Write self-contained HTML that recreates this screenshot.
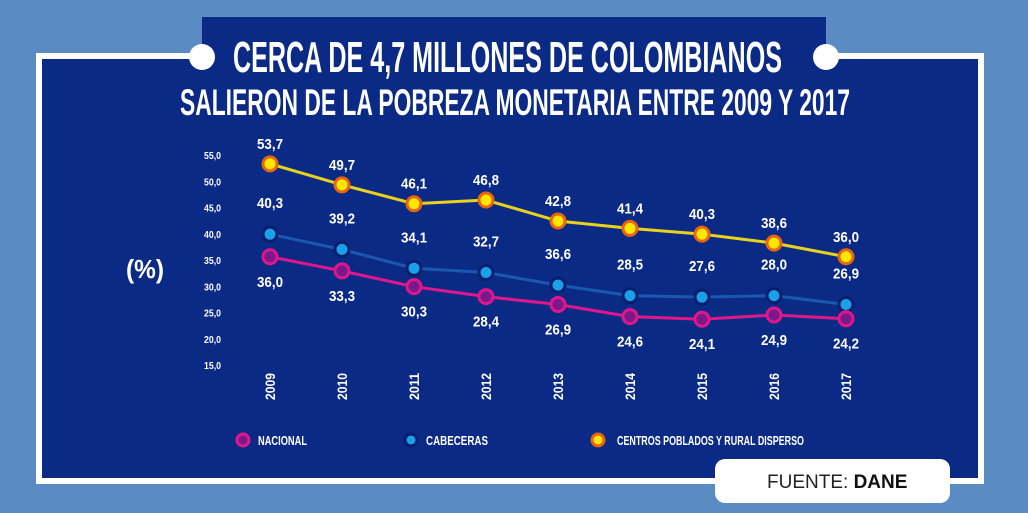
<!DOCTYPE html>
<html><head><meta charset="utf-8"><style>
body{margin:0;width:1028px;height:513px;overflow:hidden;background:#5a8bc3;}
svg{display:block}
text{font-family:"Liberation Sans",sans-serif;font-weight:bold;fill:#fff}
</style></head><body>
<svg width="1028" height="513">
<rect x="36" y="53" width="948" height="431" fill="#fff"/>
<rect x="42" y="59" width="936" height="419" fill="#0b2a85"/>
<rect x="202" y="17" width="624" height="60" fill="#0b2a85"/>
<circle cx="202" cy="57" r="13" fill="#fff"/>
<circle cx="826" cy="57" r="13" fill="#fff"/>
<text x="233" y="72" font-size="44" textLength="549" lengthAdjust="spacingAndGlyphs">CERCA DE 4,7 MILLONES DE COLOMBIANOS</text>
<text x="180" y="115" font-size="37" textLength="670" lengthAdjust="spacingAndGlyphs">SALIERON DE LA POBREZA MONETARIA ENTRE 2009 Y 2017</text>
<text x="126" y="278" font-size="26" textLength="38" lengthAdjust="spacingAndGlyphs">(%)</text>
<g id="plot"></g>
<g>
<circle cx="243" cy="440" r="6" fill="#7a1a8a" stroke="#e0168c" stroke-width="3"/>
<text x="258" y="445" font-size="13" textLength="49" lengthAdjust="spacingAndGlyphs">NACIONAL</text>
<circle cx="411" cy="440" r="6" fill="#1aa0e6" stroke="#0a1e6e" stroke-width="3"/>
<text x="426" y="445" font-size="13" textLength="62" lengthAdjust="spacingAndGlyphs">CABECERAS</text>
<circle cx="598" cy="440" r="6" fill="#ffe600" stroke="#e8650f" stroke-width="3"/>
<text x="617" y="445" font-size="13" textLength="187" lengthAdjust="spacingAndGlyphs">CENTROS POBLADOS Y RURAL DISPERSO</text>
</g>
<rect x="715" y="459" width="235" height="44" rx="10" fill="#fff"/>
<text x="767" y="488" font-size="19" style="font-weight:normal;fill:#222">FUENTE: <tspan font-weight="bold" fill="#111">DANE</tspan></text>
</svg>
<script>
const years=["2009","2010","2011","2012","2013","2014","2015","2016","2017"];
const yTicks=[55,50,45,40,35,30,25,20,15];
const nacional=[36.0,33.3,30.3,28.4,26.9,24.6,24.1,24.9,24.2];
const cabeceras=[40.3,37.4,33.8,33.0,30.6,28.6,28.3,28.6,26.9];
const cabecerasLabels=["40,3","39,2","34,1","32,7","36,6","28,5","27,6","28,0","26,9"];
const centros=[53.7,49.7,46.1,46.8,42.8,41.4,40.3,38.6,36.0];
const NS="http://www.w3.org/2000/svg";
const g=document.getElementById('plot');
const X=i=>270+i*72;
const Y=v=>157+(55-v)*5.25;
function mk(t,a){const e=document.createElementNS(NS,t);for(const k in a)e.setAttribute(k,a[k]);g.appendChild(e);return e;}
const fmt=v=>v.toFixed(1).replace('.',',');
yTicks.forEach(v=>{const t=mk('text',{x:204,y:Y(v)+2,'font-size':10,textLength:17,lengthAdjust:'spacingAndGlyphs'});t.textContent=v.toFixed(1).replace('.',',');

});
years.forEach((y,i)=>{const t=mk('text',{x:-400,y:0,'font-size':14,textLength:27,lengthAdjust:'spacingAndGlyphs',transform:`translate(${X(i)+5},0) rotate(-90)`});t.textContent=y;

});
function series(vals,labels,line,fill,stroke,dy,name){
 const p=mk('polyline',{points:vals.map((v,i)=>X(i)+','+Y(v)).join(' '),fill:'none',stroke:line,'stroke-width':3});
 
 
 vals.forEach((v,i)=>{const c=mk('circle',{cx:X(i),cy:Y(v),r:7,fill:fill,stroke:stroke,'stroke-width':3});
  
  
  const t=mk('text',{x:X(i)-13,y:Y(v)+dy,'font-size':15,textLength:26,lengthAdjust:'spacingAndGlyphs'});t.textContent=labels[i];
  
  });
}
series(centros,centros.map(fmt),'#e8d21c','#ffe600','#e8650f',-15,'centros');
series(cabeceras,cabecerasLabels,'#1a57b0','#1aa0e6','#0a1e6e',-26,'cabeceras');
series(nacional,nacional.map(fmt),'#e0168c','#7a1a8a','#e0168c',30,'nacional');
</script>
</body></html>
